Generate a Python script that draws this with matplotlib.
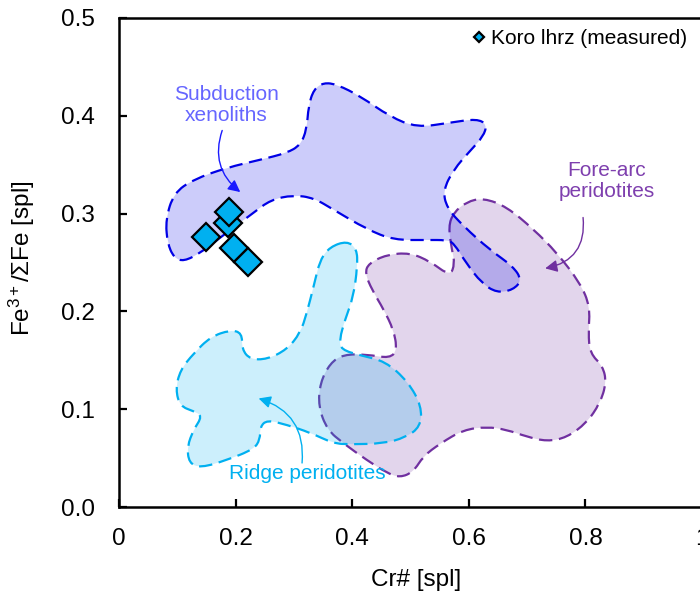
import numpy as np
import matplotlib
matplotlib.use("Agg")
import matplotlib.pyplot as plt
from matplotlib.path import Path
from matplotlib.patches import PathPatch

plt.rcParams['font.family'] = ['Liberation Sans', 'DejaVu Sans']
plt.rcParams['mathtext.fontset'] = 'custom'
plt.rcParams['mathtext.rm'] = 'Liberation Sans'
plt.rcParams['mathtext.it'] = 'Liberation Sans:italic'

# Koro lherzolite spinels (measured)
koro_cr = [0.187, 0.188, 0.149, 0.198, 0.222]
koro_fe3 = [0.290, 0.302, 0.276, 0.265, 0.251]

# Outline of the subduction-zone xenolith field
subd_cr = [0.080, 0.094, 0.128, 0.185, 0.242, 0.288, 0.311, 0.322, 0.325, 0.334,
           0.351, 0.374, 0.414, 0.465, 0.511, 0.568, 0.614, 0.631, 0.625, 0.602,
           0.574, 0.556, 0.562, 0.591, 0.636, 0.676, 0.691, 0.676, 0.648, 0.622,
           0.596, 0.574, 0.562, 0.528, 0.471, 0.425, 0.368, 0.334, 0.299, 0.260,
           0.231, 0.168, 0.140, 0.111, 0.094, 0.083]
subd_fe3 = [0.294, 0.321, 0.335, 0.347, 0.355, 0.362, 0.370, 0.386, 0.410, 0.427,
            0.434, 0.432, 0.420, 0.399, 0.388, 0.393, 0.397, 0.391, 0.379, 0.364,
            0.345, 0.324, 0.306, 0.287, 0.263, 0.246, 0.232, 0.222, 0.219, 0.229,
            0.249, 0.270, 0.273, 0.273, 0.273, 0.284, 0.304, 0.316, 0.319, 0.314,
            0.301, 0.273, 0.260, 0.251, 0.255, 0.270]

# Outline of the fore-arc peridotite field
fore_cr = [0.574, 0.596, 0.625, 0.665, 0.711, 0.751, 0.791, 0.808, 0.805, 0.808,
           0.830, 0.836, 0.825, 0.802, 0.768, 0.734, 0.699, 0.665, 0.631, 0.591,
           0.551, 0.522, 0.505, 0.482, 0.459, 0.425, 0.385, 0.357, 0.342, 0.345,
           0.362, 0.385, 0.425, 0.465, 0.477, 0.471, 0.454, 0.434, 0.422, 0.428,
           0.459, 0.499, 0.534, 0.568, 0.576, 0.571, 0.565]
fore_fe3 = [0.301, 0.312, 0.316, 0.307, 0.284, 0.260, 0.229, 0.205, 0.178, 0.157,
            0.144, 0.127, 0.106, 0.086, 0.071, 0.067, 0.072, 0.079, 0.082, 0.079,
            0.065, 0.052, 0.036, 0.030, 0.035, 0.048, 0.065, 0.079, 0.103, 0.127,
            0.147, 0.156, 0.156, 0.152, 0.161, 0.181, 0.202, 0.222, 0.239, 0.249,
            0.258, 0.260, 0.251, 0.236, 0.249, 0.263, 0.287]

# Outline of the mid-ocean ridge peridotite field
ridge_cr = [0.391, 0.408, 0.409, 0.402, 0.388, 0.378, 0.381, 0.414, 0.457, 0.496,
            0.519, 0.517, 0.491, 0.454, 0.397, 0.368, 0.328, 0.288, 0.254, 0.242,
            0.242, 0.231, 0.185, 0.140, 0.120, 0.117, 0.128, 0.143, 0.128, 0.105,
            0.097, 0.105, 0.128, 0.157, 0.191, 0.211, 0.211, 0.225, 0.254, 0.288,
            0.311, 0.322, 0.334, 0.345, 0.362]
ridge_fe3 = [0.272, 0.264, 0.246, 0.215, 0.192, 0.171, 0.161, 0.155, 0.149, 0.128,
             0.103, 0.082, 0.071, 0.065, 0.064, 0.065, 0.076, 0.084, 0.089, 0.082,
             0.069, 0.059, 0.048, 0.040, 0.045, 0.062, 0.079, 0.093, 0.098, 0.103,
             0.120, 0.140, 0.157, 0.174, 0.181, 0.178, 0.161, 0.151, 0.151, 0.161,
             0.178, 0.198, 0.226, 0.253, 0.266]

xticks = [0, 0.2, 0.4, 0.6, 0.8, 1.0]
xtick_labels = ["0", "0.2", "0.4", "0.6", "0.8", "1"]
yticks = [0.0, 0.1, 0.2, 0.3, 0.4, 0.5]
ytick_labels = ["0.0", "0.1", "0.2", "0.3", "0.4", "0.5"]


def smooth_field(xs, ys):
    # closed quadratic-bezier path using the outline points as control points
    pts = np.column_stack([xs, ys])
    mids = (pts + np.roll(pts, -1, axis=0)) / 2
    verts = [mids[-1]]
    codes = [Path.MOVETO]
    for p, m in zip(pts, mids):
        verts += [p, m]
        codes += [Path.CURVE3, Path.CURVE3]
    return Path(verts, codes)


def add_field(ax, xs, ys, color, z):
    patch = PathPatch(smooth_field(xs, ys), facecolor=matplotlib.colors.to_rgba(color, 0.2),
                      edgecolor=color, lw=1.6, linestyle=(0, (6, 3)), zorder=z)
    ax.add_patch(patch)


fig = plt.figure(figsize=(7, 5.96), dpi=100)
ax = fig.add_axes([119 / 700, 89 / 596, 583 / 700, 489 / 596])

add_field(ax, fore_cr, fore_fe3, '#7030a0', 2)
add_field(ax, ridge_cr, ridge_fe3, '#00b0f0', 3)
add_field(ax, subd_cr, subd_fe3, '#0000e6', 4)

ax.plot(koro_cr, koro_fe3, linestyle='none', marker='D', ms=14, mfc='#00b0f0',
        mec='black', mew=1.6, zorder=6, label='Koro lhrz (measured)')

# field labels with curved pointers
ax.text(0.184, 0.411, "Subduction\nxenoliths", color='#6666ff', fontsize=15,
        ha='center', va='center', linespacing=1.15)
ax.annotate("", xy=(0.208, 0.322), xytext=(0.177, 0.385),
            arrowprops=dict(arrowstyle='-|>', color='#1a1aff', lw=1,
                            mutation_scale=18, shrinkA=0, shrinkB=0,
                            connectionstyle='arc3,rad=0.35'), zorder=7)

ax.text(0.837, 0.333, "Fore-arc\nperidotites", color='#7e3fae', fontsize=15,
        ha='center', va='center', linespacing=1.15)
ax.annotate("", xy=(0.731, 0.244), xytext=(0.796, 0.296),
            arrowprops=dict(arrowstyle='-|>', color='#7030a0', lw=1,
                            mutation_scale=18, shrinkA=0, shrinkB=0,
                            connectionstyle='arc3,rad=-0.45'), zorder=7)

ax.text(0.189, 0.034, "Ridge peridotites", color='#00b0f0', fontsize=15,
        ha='left', va='center')
ax.annotate("", xy=(0.2395, 0.111), xytext=(0.314, 0.045),
            arrowprops=dict(arrowstyle='-|>', color='#00b0f0', lw=1,
                            mutation_scale=18, shrinkA=0, shrinkB=0,
                            connectionstyle='arc3,rad=0.4'), zorder=7)

leg = ax.legend(loc='upper right', bbox_to_anchor=(0.975, 0.977), frameon=False,
                fontsize=15, markerscale=0.4, handlelength=0.6, handletextpad=0.3,
                borderpad=0, borderaxespad=0)

ax.set_xlim(0, 1)
ax.set_ylim(0, 0.5)
ax.set_xticks(xticks)
ax.set_xticklabels(xtick_labels)
ax.set_yticks(yticks)
ax.set_yticklabels(ytick_labels)
ax.tick_params(direction='in', length=6, width=1.6, labelsize=17.5, colors='black')
ax.tick_params(axis='x', pad=15)
ax.tick_params(axis='y', pad=17.5)
for sp in ax.spines.values():
    sp.set_linewidth(1.8)

ax.set_xlabel("Cr# [spl]", fontsize=17.5)
ax.xaxis.set_label_coords(0.51, -0.127)
ax.set_ylabel("Fe$^{3+}$/ΣFe [spl]", fontsize=17.5)
ax.yaxis.set_label_coords(-0.141, 0.508)

fig.savefig("out.png", dpi=100)
